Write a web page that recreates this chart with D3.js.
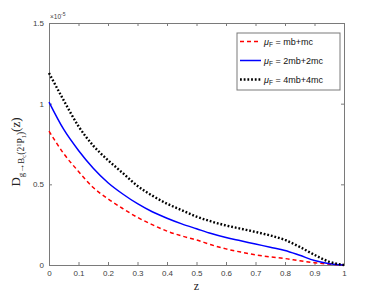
<!DOCTYPE html>
<html>
<head>
<meta charset="utf-8">
<script src="https://cdn.jsdelivr.net/npm/d3@7"></script>
<style>
  body { margin: 0; background: #fff; }
  svg { display: block; }
</style>
</head>
<body>
<div id="root"></div>
<script>
// Size of the chart
const width = 381;
const height = 298;
const margin = { top: 23, right: 37, bottom: 33, left: 49 };

// Data (units of 1e-5)
const zValues = [0, 0.05, 0.1, 0.15, 0.2, 0.25, 0.3, 0.35, 0.4, 0.45, 0.5,
  0.55, 0.6, 0.65, 0.7, 0.75, 0.8, 0.85, 0.9, 0.95, 1.0];
const muMbMc = [0.83, 0.69, 0.58, 0.48, 0.41, 0.35, 0.295, 0.25, 0.21, 0.18, 0.155,
  0.125, 0.10, 0.08, 0.063, 0.05, 0.04, 0.026, 0.014, 0.005, 0];
const mu2Mb2Mc = [1.01, 0.84, 0.71, 0.60, 0.51, 0.44, 0.38, 0.33, 0.29, 0.255, 0.225,
  0.195, 0.17, 0.15, 0.13, 0.11, 0.09, 0.06, 0.028, 0.008, 0];
const mu4Mb4Mc = [1.19, 1.02, 0.86, 0.74, 0.65, 0.57, 0.49, 0.43, 0.38, 0.34, 0.30,
  0.27, 0.245, 0.225, 0.205, 0.183, 0.155, 0.112, 0.063, 0.02, 0];
const xTicks = [0, 0.1, 0.2, 0.3, 0.4, 0.5, 0.6, 0.7, 0.8, 0.9, 1];
const yTicks = [0, 0.5, 1, 1.5];
const legendLabels = ["mb+mc", "2mb+2mc", "4mb+4mc"];

const series = [
  { values: muMbMc, color: "#ff0000", dash: "4,3", width: 1.5, label: legendLabels[0] },
  { values: mu2Mb2Mc, color: "#0000ff", dash: null, width: 1.5, label: legendLabels[1] },
  { values: mu4Mb4Mc, color: "#000000", dash: "1.8,1.9", width: 2.4, label: legendLabels[2] }
];

const axisColor = "#7a7a7a";
const textColor = "#404040";
const tickFont = "Liberation Sans, Arial, sans-serif";
const serifFont = "Liberation Serif, Times New Roman, serif";

const svg = d3.select("#root")
  .append("svg")
  .attr("width", width)
  .attr("height", height);

const xScale = d3.scaleLinear()
  .domain([0, 1])
  .range([margin.left, width - margin.right]);

const yScale = d3.scaleLinear()
  .domain([0, 1.5])
  .range([height - margin.bottom, margin.top]);

// Axes
const xAxis = d3.axisBottom(xScale).tickValues(xTicks).tickSize(-3).tickPadding(5)
  .tickFormat(d3.format("~g"));
const yAxis = d3.axisLeft(yScale).tickValues(yTicks).tickSize(-3).tickPadding(5)
  .tickFormat(d3.format("~g"));

function styleAxis(g) {
  g.select(".domain").attr("stroke", axisColor);
  g.selectAll(".tick line").attr("stroke", axisColor);
  g.selectAll(".tick text")
    .attr("fill", textColor)
    .style("font-family", tickFont)
    .style("font-size", "8px");
}

svg.append("g")
  .attr("transform", "translate(0," + (height - margin.bottom) + ")")
  .call(xAxis)
  .call(styleAxis);

svg.append("g")
  .attr("transform", "translate(" + margin.left + ",0)")
  .call(yAxis)
  .call(styleAxis);

// Top and right box edges with inward ticks
svg.append("g")
  .attr("transform", "translate(0," + margin.top + ")")
  .call(d3.axisTop(xScale).tickValues(xTicks).tickSize(-3).tickFormat(""))
  .call(styleAxis);

svg.append("g")
  .attr("transform", "translate(" + (width - margin.right) + ",0)")
  .call(d3.axisRight(yScale).tickValues(yTicks).tickSize(-3).tickFormat(""))
  .call(styleAxis);

// Exponent label
const expo = svg.append("text")
  .attr("x", margin.left + 1)
  .attr("y", margin.top - 4)
  .attr("fill", textColor)
  .style("font-family", tickFont)
  .style("font-size", "6.5px");
expo.append("tspan").text("\u00d710");
expo.append("tspan").attr("dy", -3).style("font-size", "5px").text("-5");

// Lines
const line = d3.line()
  .x((d, i) => xScale(zValues[i]))
  .y(d => yScale(d))
  .curve(d3.curveMonotoneX);

series.forEach(s => {
  svg.append("path")
    .datum(s.values)
    .attr("fill", "none")
    .attr("stroke", s.color)
    .attr("stroke-width", s.width)
    .attr("stroke-dasharray", s.dash)
    .attr("d", line);
});

// Axis labels
svg.append("text")
  .attr("x", xScale(0.5))
  .attr("y", 290)
  .attr("text-anchor", "middle")
  .attr("fill", "#222")
  .style("font-family", serifFont)
  .style("font-size", "12px")
  .text("z");

const yLabel = svg.append("text")
  .attr("transform", "translate(20," + 152 + ") rotate(-90)")
  .attr("text-anchor", "middle")
  .attr("fill", "#222")
  .style("font-family", serifFont)
  .style("font-size", "13px");
yLabel.append("tspan").text("D");
yLabel.append("tspan").attr("dy", 3.5).style("font-size", "9px").text("g\u2192B");
yLabel.append("tspan").attr("dy", 2).style("font-size", "6.5px").text("c");
yLabel.append("tspan").attr("dy", -2).style("font-size", "9.5px").text("(2");
yLabel.append("tspan").attr("dy", -3).style("font-size", "6.5px").text("1");
yLabel.append("tspan").attr("dy", 3).style("font-size", "9.5px").text("P");
yLabel.append("tspan").attr("dy", 2).style("font-size", "6.5px").text("1");
yLabel.append("tspan").attr("dy", -2).style("font-size", "9.5px").text(")");
yLabel.append("tspan").attr("dy", -3.5).text("(z)");

// Legend
const legend = svg.append("g");
legend.append("rect")
  .attr("x", 237)
  .attr("y", 33)
  .attr("width", 103)
  .attr("height", 57)
  .attr("fill", "#fff")
  .attr("stroke", axisColor)
  .attr("stroke-width", 1);

series.forEach((s, i) => {
  const y = 41.5 + i * 19;
  legend.append("line")
    .attr("x1", 240)
    .attr("x2", 261)
    .attr("y1", y)
    .attr("y2", y)
    .attr("stroke", s.color)
    .attr("stroke-width", s.width)
    .attr("stroke-dasharray", s.dash);
  const t = legend.append("text")
    .attr("x", 264)
    .attr("y", y + 3)
    .attr("fill", "#111")
    .style("font-family", tickFont)
    .style("font-size", "9px");
  t.append("tspan").style("font-style", "italic").text("\u03bc");
  t.append("tspan").attr("dy", 2).style("font-size", "6.5px").text("F");
  t.append("tspan").attr("dy", -2).text(" = " + s.label);
});
</script>
</body>
</html>
